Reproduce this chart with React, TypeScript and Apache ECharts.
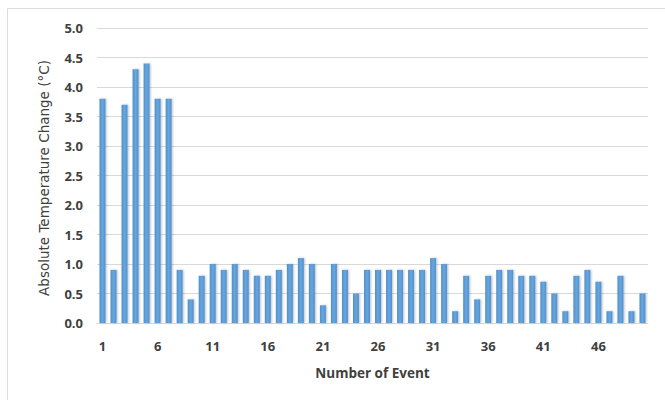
import React, { useEffect, useRef } from "react";
import * as echarts from "echarts";

const categories: string[] = Array.from({ length: 50 }, (_, i) => String(i + 1));
const values: number[] = [
  3.8, 0.9, 3.7, 4.3, 4.4, 3.8, 3.8, 0.9, 0.4, 0.8,
  1.0, 0.9, 1.0, 0.9, 0.8, 0.8, 0.9, 1.0, 1.1, 1.0,
  0.3, 1.0, 0.9, 0.5, 0.9, 0.9, 0.9, 0.9, 0.9, 0.9,
  1.1, 1.0, 0.2, 0.8, 0.4, 0.8, 0.9, 0.9, 0.8, 0.8,
  0.7, 0.5, 0.2, 0.8, 0.9, 0.7, 0.2, 0.8, 0.2, 0.5,
];
const yAxisName = "Absolute Temperature Change (°C)";
const xAxisName = "Number of Event";

export default function App() {
  const ref = useRef<HTMLDivElement>(null);
  useEffect(() => {
    if (!ref.current) return;
    const chart = echarts.init(ref.current, null, { renderer: "svg" });
    const font = "'Open Sans', 'Liberation Sans', sans-serif";
    chart.setOption({
      animation: false,
      backgroundColor: "#ffffff",
      graphic: [
        {
          type: "rect",
          shape: { x: 7.5, y: 8.5, width: 700, height: 420 },
          style: { fill: "none", stroke: "#dcdcdc", lineWidth: 1 },
          silent: true,
        },
        {
          type: "text",
          x: 44,
          y: 178,
          rotation: Math.PI / 2,
          style: {
            text: yAxisName,
            fill: "#404040",
            font: "13.5px 'DejaVu Sans', sans-serif",
            align: "center",
            verticalAlign: "middle",
          },
          silent: true,
        },
      ],
      grid: { left: 97, right: 17, top: 28, bottom: 77 },
      xAxis: {
        type: "category",
        data: categories,
        boundaryGap: true,
        axisLine: { show: true, lineStyle: { color: "#d9d9d9", width: 1 } },
        axisTick: { show: false },
        axisLabel: {
          interval: 4,
          color: "#404040",
          fontFamily: font,
          fontWeight: "bold",
          fontSize: 13,
          margin: 16,
        },
        name: xAxisName,
        nameLocation: "middle",
        nameGap: 43,
        nameTextStyle: {
          color: "#404040",
          fontFamily: font,
          fontWeight: "bold",
          fontSize: 13.5,
        },
      },
      yAxis: {
        type: "value",
        min: 0,
        max: 5,
        interval: 0.5,
        axisLine: { show: false },
        axisTick: { show: false },
        splitLine: { lineStyle: { color: "#d9d9d9", width: 1 } },
        axisLabel: {
          color: "#404040",
          fontFamily: font,
          fontWeight: "bold",
          fontSize: 13,
          margin: 14,
          formatter: (v: number) => v.toFixed(1),
        },
      },
      series: [
        {
          type: "bar",
          data: values,
          barWidth: 6,
          itemStyle: {
            color: new echarts.graphic.LinearGradient(0, 0, 1, 0, [
              { offset: 0, color: "#4e90cf" },
              { offset: 0.5, color: "#6aa6dc" },
              { offset: 1, color: "#4e90cf" },
            ]),
            shadowColor: "rgba(0,0,0,0.25)",
            shadowBlur: 2,
            shadowOffsetX: 1,
            shadowOffsetY: 0,
          },
        },
      ],
    });
    return () => chart.dispose();
  }, []);
  return (
    <div
      ref={ref}
      style={{ position: "absolute", left: 0, top: 0, width: 665, height: 400 }}
    />
  );
}
